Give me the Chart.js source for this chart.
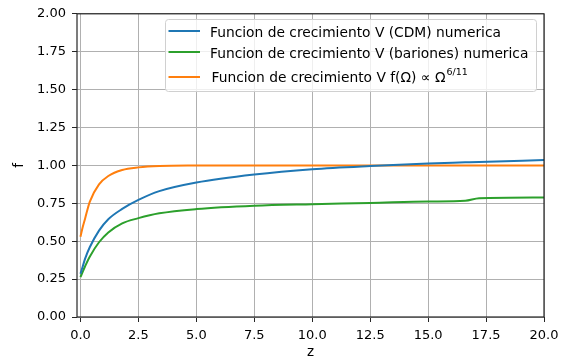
<!DOCTYPE html>
<html>
<head>
<meta charset="utf-8">
<script src="https://cdn.jsdelivr.net/npm/chart.js@4"></script>
<style>
  html, body { margin: 0; padding: 0; background: #fff; }
  #wrap { width: 569px; height: 362px; }
</style>
</head>
<body>
<div id="wrap"><canvas id="growthChart" width="569" height="362"></canvas></div>
<script>
// Funcion de crecimiento: f vs z, three curves

const zValues = [0, 0.1, 0.2, 0.4, 0.8, 1.2, 1.8, 2.5, 3.4, 5, 7.5, 10, 12.5, 15, 16.6, 17.2, 20];
const cdmValues = [0.285, 0.335, 0.385, 0.46, 0.57, 0.645, 0.713, 0.772, 0.83, 0.887, 0.94, 0.975, 0.996, 1.012, 1.02, 1.023, 1.035];
const barionesValues = [0.263, 0.30, 0.335, 0.398, 0.493, 0.558, 0.618, 0.652, 0.684, 0.712, 0.734, 0.744, 0.752, 0.762, 0.767, 0.784, 0.789];
const approxValues = [0.53, 0.595, 0.65, 0.76, 0.875, 0.93, 0.97, 0.987, 0.996, 0.999, 1.0, 1.0, 1.0, 1.0, 1.0, 1.0, 1.0];

const seriesNames = [
  'Funcion de crecimiento V (CDM) numerica',
  'Funcion de crecimiento V (bariones) numerica',
  'Funcion de crecimiento V f(Ω) ∝ Ω'
];
const seriesSup = ['', '', '6/11'];
const seriesColors = ['#1f77b4', '#2ca02c', '#ff7f0e'];

const xTicks = [0, 2.5, 5, 7.5, 10, 12.5, 15, 17.5, 20];
const yTicks = [0, 0.25, 0.5, 0.75, 1.0, 1.25, 1.5, 1.75, 2.0];

const FONT = 'DejaVu Sans';

function toPoints(values) {
  return values.map(function (v, i) { return { x: zValues[i], y: v }; });
}

const seriesValues = [cdmValues, barionesValues, approxValues];

const datasets = seriesValues.map(function (vals, i) {
  return {
    label: seriesNames[i],
    data: toPoints(vals),
    borderColor: seriesColors[i],
    backgroundColor: seriesColors[i],
    borderWidth: 2,
    pointRadius: 0,
    cubicInterpolationMode: 'monotone',
    fill: false,
  };
});

// matplotlib-ish frame, legend and axis titles
const framePlugin = {
  id: 'frame',
  afterDatasetsDraw: function (chart) {
    const a = chart.chartArea;
    const ctx = chart.ctx;
    ctx.save();
    ctx.strokeStyle = '#262626';
    ctx.lineWidth = 1.2;
    ctx.strokeRect(a.left, a.top, a.right - a.left, a.bottom - a.top);
    ctx.restore();
  }
};

const legendPlugin = {
  id: 'mplLegend',
  afterDraw: function (chart) {
    const ctx = chart.ctx;
    const box = { x: 165.5, y: 19.5, w: 371, h: 72 };
    const rowY = [31, 52, 77];
    const textY = [33.5, 54, 78.5];
    ctx.save();
    // box
    ctx.beginPath();
    ctx.roundRect(box.x, box.y, box.w, box.h, 3);
    ctx.fillStyle = 'rgba(255,255,255,0.8)';
    ctx.fill();
    ctx.strokeStyle = '#d0d0d0';
    ctx.lineWidth = 1;
    ctx.stroke();

    for (var i = 0; i < seriesNames.length; i++) {
      ctx.beginPath();
      ctx.strokeStyle = seriesColors[i];
      ctx.lineWidth = 2;
      ctx.moveTo(168.5, rowY[i]);
      ctx.lineTo(200, rowY[i]);
      ctx.stroke();

      ctx.fillStyle = '#000';
      ctx.font = '13.8px "' + FONT + '"';
      ctx.textBaseline = 'middle';
      ctx.textAlign = 'left';
      var tx = seriesSup[i] ? 211.5 : 210;
      ctx.fillText(seriesNames[i], tx, textY[i]);
      if (seriesSup[i]) {
        var w = ctx.measureText(seriesNames[i]).width;
        ctx.font = '9.5px "' + FONT + '"';
        ctx.fillText(seriesSup[i], tx + w + 1, textY[i] - 5.5);
      }
    }

    // axis titles
    ctx.fillStyle = '#000';
    ctx.font = '13.5px "' + FONT + '"';
    ctx.textAlign = 'center';
    ctx.textBaseline = 'middle';
    const a = chart.chartArea;
    ctx.fillText('z', (a.left + a.right) / 2, 352);
    ctx.translate(19, (a.top + a.bottom) / 2);
    ctx.rotate(-Math.PI / 2);
    ctx.fillText('f', 0, 0);
    ctx.restore();
  }
};

new Chart(document.getElementById('growthChart').getContext('2d'), {
  type: 'line',
  data: { datasets: datasets },
  options: {
    responsive: false,
    animation: false,
    layout: { padding: { top: 13, right: 25, left: 0, bottom: 0 } },
    plugins: {
      legend: { display: false },
      tooltip: { enabled: false },
    },
    scales: {
      x: {
        type: 'linear',
        min: -0.15,
        max: 20,
        afterBuildTicks: function (scale) {
          scale.ticks = xTicks.map(function (v) { return { value: v }; });
        },
        afterFit: function (scale) { scale.height = 45; },
        ticks: {
          color: '#000',
          font: { family: FONT, size: 13 },
          padding: 6,
          maxRotation: 0,
          callback: function (v) { return v.toFixed(1); }
        },
        grid: { color: '#b0b0b0', lineWidth: 1, tickLength: 5, tickColor: '#262626' },
        border: { display: false },
      },
      y: {
        type: 'linear',
        min: 0,
        max: 2,
        afterBuildTicks: function (scale) {
          scale.ticks = yTicks.map(function (v) { return { value: v }; });
        },
        afterFit: function (scale) { scale.width = 77; },
        ticks: {
          color: '#000',
          font: { family: FONT, size: 13 },
          padding: 6,
          callback: function (v) { return v.toFixed(2); }
        },
        grid: { color: '#b0b0b0', lineWidth: 1, tickLength: 5, tickColor: '#262626' },
        border: { display: false },
      }
    }
  },
  plugins: [framePlugin, legendPlugin]
});
</script>
</body>
</html>
